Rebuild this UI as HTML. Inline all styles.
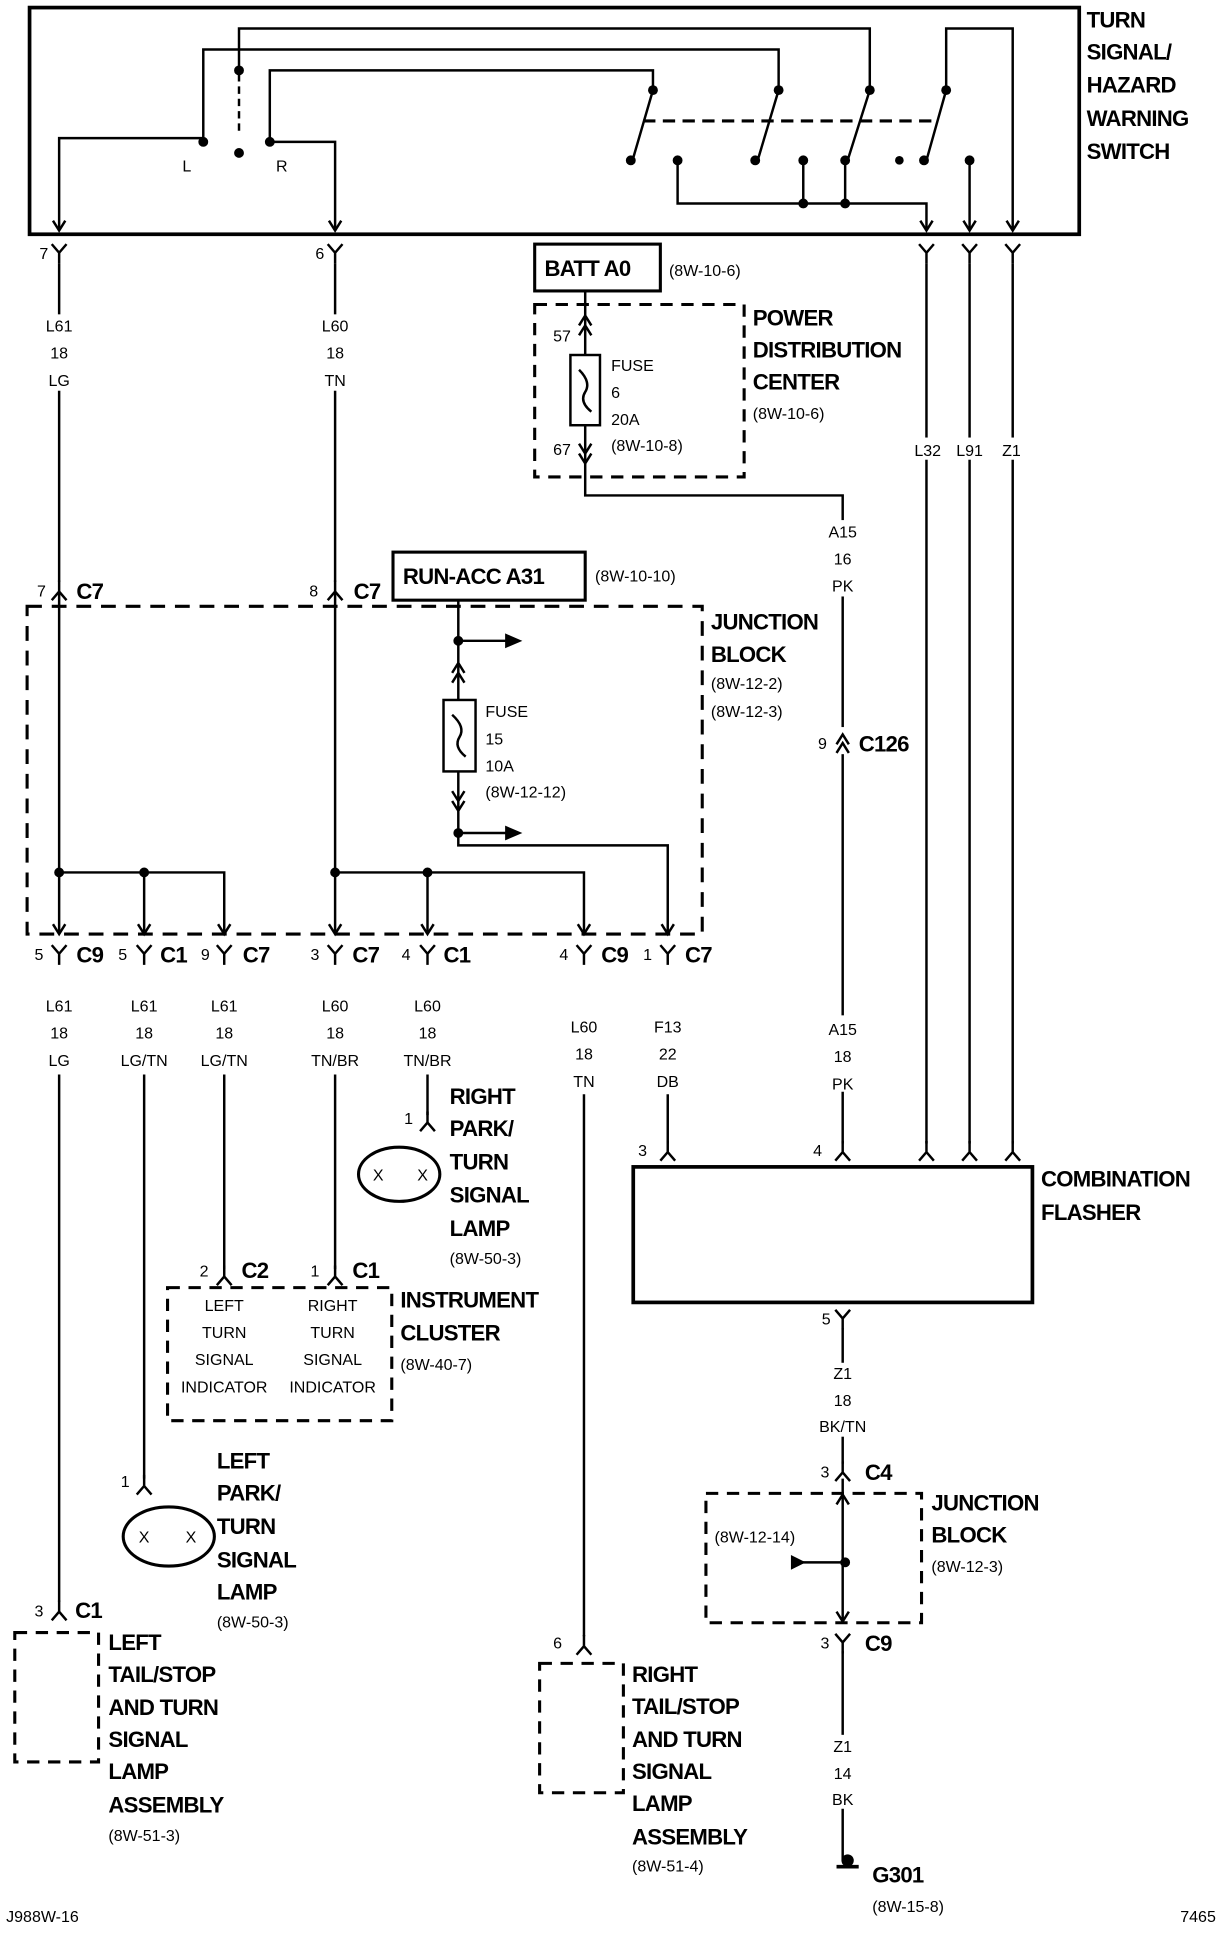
<!DOCTYPE html>
<html><head><meta charset="utf-8"><style>
html,body{margin:0;padding:0;background:#fff}
svg{display:block}
text{font-family:"Liberation Sans",sans-serif;fill:#000}
.s{font-size:13px}
.b{font-size:18px;font-weight:bold;letter-spacing:-0.6px}
.c{text-anchor:middle}
</style></head><body>
<svg width="1232" height="1942" viewBox="0 0 1000 1576" xmlns="http://www.w3.org/2000/svg">
<defs>
<g id="yv"><path d="M-6,-7 L0,0 L6,-7 M0,0 V9" fill="none" stroke="#000" stroke-width="2"/></g>
<g id="ya"><path d="M-6,7 L0,0 L6,7 M0,0 V-9" fill="none" stroke="#000" stroke-width="2"/></g>
<g id="ah"><path d="M-5,-8 L0,0 L5,-8" fill="none" stroke="#000" stroke-width="2"/></g>
<g id="au"><path d="M-5,8 L0,0 L5,8" fill="none" stroke="#000" stroke-width="2"/></g>
</defs>
<g fill="none" stroke="#000" stroke-width="2">
<rect x="24" y="6" width="852" height="184" stroke-width="3"/>
<path d="M48,185 V112 H165 V40 H632 V73"/>
<path d="M272,185 V115 H219 V57 H530 V73"/>
<path d="M194,57 V23 H706 V73"/>
<path d="M194,60 V110" stroke-dasharray="6,4"/>
<path d="M768,73 V23 H822 V185"/>
<path d="M530,73 L514,128 M632,73 L615,130 M706,73 L688,130 M768,73 L752,130"/>
<path d="M522,98 H762" stroke-dasharray="10,6" stroke-width="2.5"/>
<path d="M550,130 V165 H752 V185 M652,130 V165 M686,130 V165 M787,130 V185"/>
</g>
<g fill="#000">
<circle cx="165" cy="115" r="4"/><circle cx="219" cy="115" r="4"/><circle cx="194" cy="57" r="4"/><circle cx="194" cy="124" r="4"/>
<circle cx="530" cy="73" r="4"/><circle cx="632" cy="73" r="4"/><circle cx="706" cy="73" r="4"/><circle cx="768" cy="73" r="4"/>
<circle cx="512" cy="130" r="4"/><circle cx="550" cy="130" r="4"/><circle cx="613" cy="130" r="4"/><circle cx="652" cy="130" r="4"/><circle cx="686" cy="130" r="4"/><circle cx="730" cy="130" r="3.5"/><circle cx="750" cy="130" r="4"/><circle cx="787" cy="130" r="4"/>
<circle cx="652" cy="165" r="4"/><circle cx="686" cy="165" r="4"/>
</g>
<use href="#ah" x="48" y="187"/><use href="#ah" x="272" y="187"/><use href="#ah" x="752" y="187"/><use href="#ah" x="787" y="187"/><use href="#ah" x="822" y="187"/>
<text class="b" x="882" y="22">TURN</text><text class="b" x="882" y="48">SIGNAL/</text><text class="b" x="882" y="75">HAZARD</text><text class="b" x="882" y="102">WARNING</text><text class="b" x="882" y="129">SWITCH</text>
<text class="s" x="148" y="139">L</text><text class="s" x="224" y="139">R</text>

<use href="#yv" x="48" y="205"/><use href="#yv" x="272" y="205"/><use href="#yv" x="752" y="205"/><use href="#yv" x="787" y="205"/><use href="#yv" x="822" y="205"/>
<text class="s" x="32" y="210">7</text><text class="s" x="256" y="210">6</text>
<g fill="none" stroke="#000" stroke-width="2">
<path d="M48,214 V472 M272,214 V472"/>
<path d="M752,214 V928 M787,214 V928 M822,214 V928"/>
</g>
<rect x="32" y="255" width="32" height="62" fill="#fff"/><rect x="256" y="255" width="32" height="62" fill="#fff"/>
<text class="s c" x="48" y="269">L61</text><text class="s c" x="48" y="291">18</text><text class="s c" x="48" y="313">LG</text>
<text class="s c" x="272" y="269">L60</text><text class="s c" x="272" y="291">18</text><text class="s c" x="272" y="313">TN</text>
<g><rect x="740" y="355" width="26" height="18" fill="#fff"/><rect x="775" y="355" width="26" height="18" fill="#fff"/><rect x="810" y="355" width="26" height="18" fill="#fff"/></g>
<text class="s c" x="753" y="370">L32</text><text class="s c" x="787" y="370">L91</text><text class="s c" x="821" y="370">Z1</text>

<rect x="434" y="198" width="102" height="38" fill="none" stroke="#000" stroke-width="2.5"/>
<text class="b" x="442" y="224">BATT A0</text><text class="s" x="543" y="224">(8W-10-6)</text>
<rect x="434" y="247" width="170" height="140" fill="none" stroke="#000" stroke-width="2.5" stroke-dasharray="10,7"/>
<g fill="none" stroke="#000" stroke-width="2">
<path d="M475,236 V288 M475,345 V402 H684 V928"/>
<rect x="463" y="288" width="24" height="57"/>
<path d="M470,300 Q480,310 475,318 Q470,326 480,334"/>
</g>
<use href="#au" x="475" y="256"/><use href="#au" x="475" y="264"/>
<use href="#ah" x="475" y="368"/><use href="#ah" x="475" y="376"/>
<text class="s" x="449" y="277">57</text><text class="s" x="449" y="369">67</text>
<text class="s" x="496" y="301">FUSE</text><text class="s" x="496" y="323">6</text><text class="s" x="496" y="345">20A</text><text class="s" x="496" y="366">(8W-10-8)</text>
<text class="b" x="611" y="264">POWER</text><text class="b" x="611" y="290">DISTRIBUTION</text><text class="b" x="611" y="316">CENTER</text><text class="s" x="611" y="340">(8W-10-6)</text>
<rect x="670" y="422" width="28" height="62" fill="#fff"/>
<text class="s c" x="684" y="436">A15</text><text class="s c" x="684" y="458">16</text><text class="s c" x="684" y="480">PK</text>
<rect x="676" y="590" width="16" height="22" fill="#fff"/>
<use href="#au" x="684" y="596"/><use href="#au" x="684" y="603"/>
<text class="s" x="664" y="608">9</text><text class="b" x="697" y="610">C126</text>
<rect x="670" y="824" width="28" height="62" fill="#fff"/>
<text class="s c" x="684" y="840">A15</text><text class="s c" x="684" y="862">18</text><text class="s c" x="684" y="884">PK</text>

<rect x="319" y="448" width="156" height="39" fill="none" stroke="#000" stroke-width="2.5"/>
<text class="b" x="327" y="474">RUN-ACC A31</text><text class="s" x="483" y="472">(8W-10-10)</text>
<use href="#ya" x="48" y="480"/><use href="#ya" x="272" y="480"/>
<text class="s" x="30" y="484">7</text><text class="b" x="62" y="486">C7</text>
<text class="s" x="251" y="484">8</text><text class="b" x="287" y="486">C7</text>
<rect x="22" y="492" width="548" height="266" fill="none" stroke="#000" stroke-width="2.5" stroke-dasharray="12,8"/>
<text class="b" x="577" y="511">JUNCTION</text><text class="b" x="577" y="537">BLOCK</text><text class="s" x="577" y="559">(8W-12-2)</text><text class="s" x="577" y="582">(8W-12-3)</text>
<g fill="none" stroke="#000" stroke-width="2">
<path d="M48,480 V756 M48,708 H182 V756 M117,708 V756"/>
<path d="M272,480 V756 M272,708 H474 V756 M347,708 V756"/>
<path d="M372,487 V568 M372,626 V686 H542 V756"/>
<path d="M372,520 H418 M372,676 H418"/>
<rect x="360" y="568" width="26" height="58"/>
<path d="M367,580 Q378,590 373,598 Q368,606 378,614"/>
</g>
<path d="M424,520 L410,514 L410,526 Z M424,676 L410,670 L410,682 Z"/>
<g fill="#000"><circle cx="48" cy="708" r="4"/><circle cx="117" cy="708" r="4"/><circle cx="272" cy="708" r="4"/><circle cx="347" cy="708" r="4"/><circle cx="372" cy="520" r="4"/><circle cx="372" cy="676" r="4"/></g>
<use href="#au" x="372" y="538"/><use href="#au" x="372" y="546"/>
<use href="#ah" x="372" y="650"/><use href="#ah" x="372" y="658"/>
<text class="s" x="394" y="582">FUSE</text><text class="s" x="394" y="604">15</text><text class="s" x="394" y="626">10A</text><text class="s" x="394" y="647">(8W-12-12)</text>
<use href="#ah" x="48" y="758"/><use href="#ah" x="117" y="758"/><use href="#ah" x="182" y="758"/><use href="#ah" x="272" y="758"/><use href="#ah" x="347" y="758"/><use href="#ah" x="474" y="758"/><use href="#ah" x="542" y="758"/>
<use href="#yv" x="48" y="774"/><use href="#yv" x="117" y="774"/><use href="#yv" x="182" y="774"/><use href="#yv" x="272" y="774"/><use href="#yv" x="347" y="774"/><use href="#yv" x="474" y="774"/><use href="#yv" x="542" y="774"/>
<text class="s" x="28" y="779">5</text><text class="b" x="62" y="781">C9</text>
<text class="s" x="96" y="779">5</text><text class="b" x="130" y="781">C1</text>
<text class="s" x="163" y="779">9</text><text class="b" x="197" y="781">C7</text>
<text class="s" x="252" y="779">3</text><text class="b" x="286" y="781">C7</text>
<text class="s" x="326" y="779">4</text><text class="b" x="360" y="781">C1</text>
<text class="s" x="454" y="779">4</text><text class="b" x="488" y="781">C9</text>
<text class="s" x="522" y="779">1</text><text class="b" x="556" y="781">C7</text>
<text class="s c" x="48" y="821">L61</text><text class="s c" x="48" y="843">18</text><text class="s c" x="48" y="865">LG</text>
<text class="s c" x="117" y="821">L61</text><text class="s c" x="117" y="843">18</text><text class="s c" x="117" y="865">LG/TN</text>
<text class="s c" x="182" y="821">L61</text><text class="s c" x="182" y="843">18</text><text class="s c" x="182" y="865">LG/TN</text>
<text class="s c" x="272" y="821">L60</text><text class="s c" x="272" y="843">18</text><text class="s c" x="272" y="865">TN/BR</text>
<text class="s c" x="347" y="821">L60</text><text class="s c" x="347" y="843">18</text><text class="s c" x="347" y="865">TN/BR</text>
<text class="s c" x="474" y="838">L60</text><text class="s c" x="474" y="860">18</text><text class="s c" x="474" y="882">TN</text>
<text class="s c" x="542" y="838">F13</text><text class="s c" x="542" y="860">22</text><text class="s c" x="542" y="882">DB</text>
<g fill="none" stroke="#000" stroke-width="2">
<path d="M48,872 V1300 M117,872 V1200 M182,872 V1030 M272,872 V1030 M347,872 V905 M474,888 V1328 M542,888 V928"/>
</g>
<use href="#ya" x="347" y="911"/><text class="s" x="328" y="912">1</text>
<ellipse cx="324" cy="953" rx="33" ry="22" fill="none" stroke="#000" stroke-width="2.5"/>
<text class="s c" x="307" y="958">X</text><text class="s c" x="343" y="958">X</text>
<text class="b" x="365" y="896">RIGHT</text><text class="b" x="365" y="922">PARK/</text><text class="b" x="365" y="949">TURN</text><text class="b" x="365" y="976">SIGNAL</text><text class="b" x="365" y="1003">LAMP</text><text class="s" x="365" y="1026">(8W-50-3)</text>
<use href="#ya" x="182" y="1036"/><use href="#ya" x="272" y="1036"/>
<text class="s" x="162" y="1036">2</text><text class="b" x="196" y="1037">C2</text>
<text class="s" x="252" y="1036">1</text><text class="b" x="286" y="1037">C1</text>
<rect x="136" y="1045" width="182" height="108" fill="none" stroke="#000" stroke-width="2.5" stroke-dasharray="10,7"/>
<text class="s c" x="182" y="1064">LEFT</text><text class="s c" x="182" y="1086">TURN</text><text class="s c" x="182" y="1108">SIGNAL</text><text class="s c" x="182" y="1130">INDICATOR</text>
<text class="s c" x="270" y="1064">RIGHT</text><text class="s c" x="270" y="1086">TURN</text><text class="s c" x="270" y="1108">SIGNAL</text><text class="s c" x="270" y="1130">INDICATOR</text>
<text class="b" x="325" y="1061">INSTRUMENT</text><text class="b" x="325" y="1088">CLUSTER</text><text class="s" x="325" y="1112">(8W-40-7)</text>
<use href="#ya" x="117" y="1206"/><text class="s" x="98" y="1207">1</text>
<ellipse cx="137" cy="1247" rx="37" ry="24" fill="none" stroke="#000" stroke-width="2.5"/>
<text class="s c" x="117" y="1252">X</text><text class="s c" x="155" y="1252">X</text>
<text class="b" x="176" y="1192">LEFT</text><text class="b" x="176" y="1218">PARK/</text><text class="b" x="176" y="1245">TURN</text><text class="b" x="176" y="1272">SIGNAL</text><text class="b" x="176" y="1298">LAMP</text><text class="s" x="176" y="1321">(8W-50-3)</text>
<use href="#ya" x="48" y="1308"/><text class="s" x="28" y="1312">3</text><text class="b" x="61" y="1313">C1</text>
<rect x="12" y="1325" width="68" height="105" fill="none" stroke="#000" stroke-width="2.5" stroke-dasharray="10,7"/>
<text class="b" x="88" y="1339">LEFT</text><text class="b" x="88" y="1365">TAIL/STOP</text><text class="b" x="88" y="1392">AND TURN</text><text class="b" x="88" y="1418">SIGNAL</text><text class="b" x="88" y="1444">LAMP</text><text class="b" x="88" y="1471">ASSEMBLY</text><text class="s" x="88" y="1494">(8W-51-3)</text>
<use href="#ya" x="474" y="1336"/><text class="s" x="449" y="1338">6</text>
<rect x="438" y="1350" width="68" height="105" fill="none" stroke="#000" stroke-width="2.5" stroke-dasharray="10,7"/>
<text class="b" x="513" y="1365">RIGHT</text><text class="b" x="513" y="1391">TAIL/STOP</text><text class="b" x="513" y="1418">AND TURN</text><text class="b" x="513" y="1444">SIGNAL</text><text class="b" x="513" y="1470">LAMP</text><text class="b" x="513" y="1497">ASSEMBLY</text><text class="s" x="513" y="1519">(8W-51-4)</text>
<use href="#ya" x="542" y="935"/><use href="#ya" x="684" y="935"/><use href="#ya" x="752" y="935"/><use href="#ya" x="787" y="935"/><use href="#ya" x="822" y="935"/>
<text class="s" x="518" y="938">3</text><text class="s" x="660" y="938">4</text>
<rect x="514" y="947" width="324" height="110" fill="none" stroke="#000" stroke-width="3"/>
<text class="b" x="845" y="963">COMBINATION</text><text class="b" x="845" y="990">FLASHER</text>
<use href="#yv" x="684" y="1070"/><text class="s" x="667" y="1075">5</text>
<path d="M684,1078 V1188 M684,1200 V1317 M684,1340 V1510" fill="none" stroke="#000" stroke-width="2"/>
<rect x="670" y="1106" width="30" height="60" fill="#fff"/>
<text class="s c" x="684" y="1119">Z1</text><text class="s c" x="684" y="1141">18</text><text class="s c" x="684" y="1162">BK/TN</text>
<use href="#ya" x="684" y="1195"/><text class="s" x="666" y="1199">3</text><text class="b" x="702" y="1201">C4</text>
<rect x="573" y="1212" width="175" height="105" fill="none" stroke="#000" stroke-width="2.5" stroke-dasharray="10,7"/>
<use href="#au" x="684" y="1213"/><use href="#ah" x="684" y="1316"/>
<text class="s" x="580" y="1252">(8W-12-14)</text>
<path d="M650,1268 H684" stroke="#000" stroke-width="2"/>
<path d="M642,1262 L654,1268 L642,1274 Z"/><circle cx="686" cy="1268" r="4"/>
<text class="b" x="756" y="1226">JUNCTION</text><text class="b" x="756" y="1252">BLOCK</text><text class="s" x="756" y="1276">(8W-12-3)</text>
<use href="#yv" x="684" y="1333"/><text class="s" x="666" y="1338">3</text><text class="b" x="702" y="1340">C9</text>
<rect x="670" y="1408" width="30" height="60" fill="#fff"/>
<text class="s c" x="684" y="1422">Z1</text><text class="s c" x="684" y="1444">14</text><text class="s c" x="684" y="1465">BK</text>
<path d="M679,1515 H697" stroke="#000" stroke-width="3"/><circle cx="688" cy="1510" r="5"/>
<text class="b" x="708" y="1528">G301</text><text class="s" x="708" y="1552">(8W-15-8)</text>
<text class="s" x="5" y="1560">J988W-16</text><text class="s" x="958" y="1560">7465</text>
</svg>
</body></html>
